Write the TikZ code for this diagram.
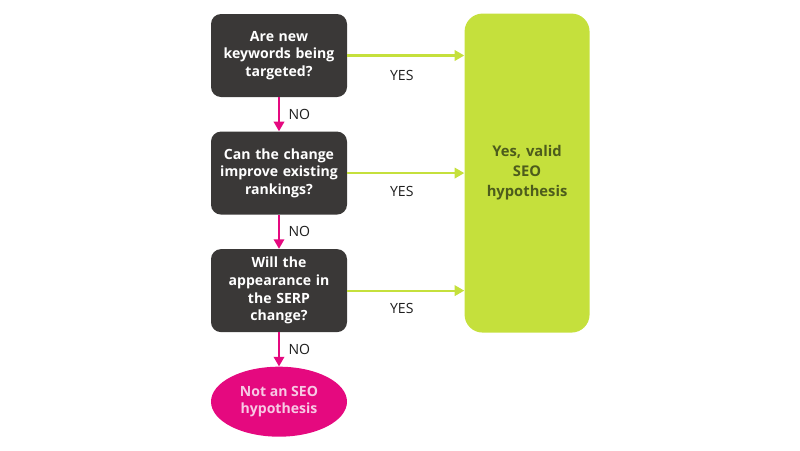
\documentclass[tikz,border=0pt]{standalone}
\usepackage{fontspec}
\setmainfont{Open Sans}
\usetikzlibrary{arrows.meta,positioning,shapes.geometric}
\definecolor{seodark}{HTML}{3A3837}
\definecolor{seogreen}{HTML}{C5E03C}
\definecolor{seopink}{HTML}{E5097F}
\definecolor{seopinktext}{HTML}{F7C9E4}
\definecolor{seoolive}{HTML}{4D5C1C}
\definecolor{seolabel}{HTML}{1E1E1E}

\begin{document}
\begin{tikzpicture}[
      font=\fontsize{10}{12.6}\selectfont,
      node distance=8.5mm,
      question/.style={fill=seodark,rounded corners=2.5mm,align=center,text=white,font=\fontsize{10}{12.6}\selectfont\bfseries,minimum width=34mm,minimum height=20.75mm,text width=32mm,inner sep=0pt},
      answer/.style={fill=seogreen,rounded corners=4.5mm,align=center,text=seoolive,font=\fontsize{10.5}{14.2}\selectfont\bfseries,minimum width=31.25mm,minimum height=79.75mm,text width=29mm,inner sep=0pt},
      reject/.style={ellipse,fill=seopink,align=center,text=seopinktext,font=\fontsize{10}{12.6}\selectfont\bfseries,minimum width=34mm,minimum height=17.5mm,inner sep=0pt},
      yesarrow/.style={-{Triangle[length=2.4mm,width=2.6mm]},seogreen,line width=1.5pt},
      noarrow/.style={-{Triangle[length=2.4mm,width=2.6mm]},seopink,line width=1.5pt},
      lbl/.style={text=seolabel,inner sep=0pt}
    ]
    \useasboundingbox (0,0) rectangle (20,-11.25);
    \node[question] (q1) at (6.975,-1.3875) {Are new\\keywords being\\targeted?};
    \node[question,below=of q1] (q2) {Can the change\\improve existing\\rankings?};
    \node[question,below=of q2] (q3) {Will the\\appearance in\\the SERP\\change?};
    \node[reject,below=of q3] (notseo) {Not an SEO\\hypothesis};
    \node[answer,right=29.25mm of q2] (valid) {Yes, valid\\SEO\\hypothesis};
    % yes branches
    \draw[yesarrow] (q1.east) -- (q1.east -| valid.west) node[lbl,midway,xshift=-1mm,yshift=-5mm] (yes1) {YES};
    \draw[yesarrow] (q2.east) -- (q2.east -| valid.west) node[lbl,midway,xshift=-1mm,yshift=-4.5mm] (yes2) {YES};
    \draw[yesarrow] (q3.east) -- (q3.east -| valid.west) node[lbl,midway,xshift=-1mm,yshift=-4.5mm] (yes3) {YES};
    % no branches
    \draw[noarrow] (q1) -- (q2) node[lbl,midway,xshift=5.1mm] (no1) {NO};
    \draw[noarrow] (q2) -- (q3) node[lbl,midway,xshift=5.1mm] (no2) {NO};
    \draw[noarrow] (q3) -- (notseo) node[lbl,midway,xshift=5.1mm] (no3) {NO};
  \end{tikzpicture}
\end{document}
